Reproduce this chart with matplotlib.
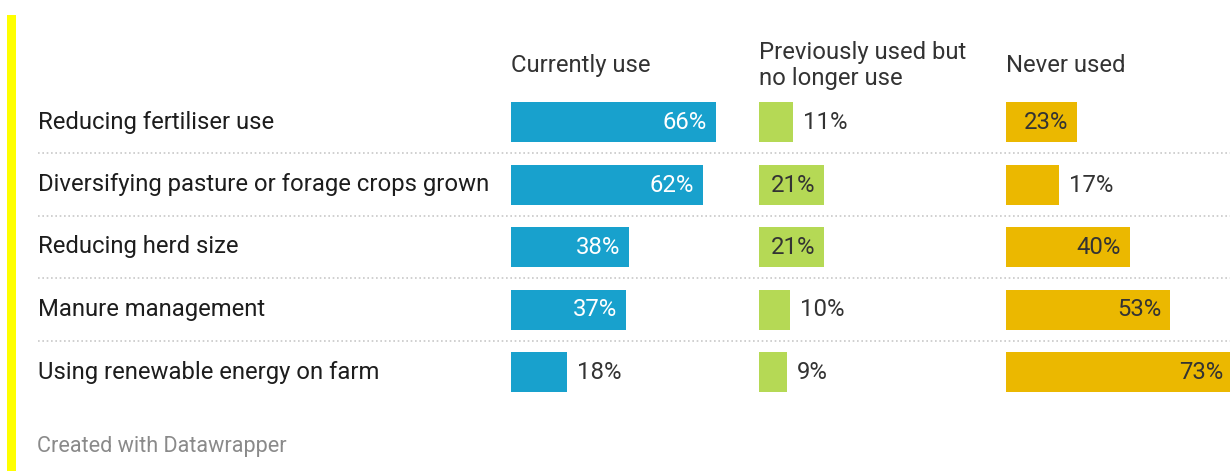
import matplotlib
matplotlib.use('Agg')
import matplotlib.pyplot as plt
from matplotlib.patches import Rectangle

plt.rcParams['font.family'] = ['Roboto', 'DejaVu Sans']

measures = [
    'Reducing fertiliser use',
    'Diversifying pasture or forage crops grown',
    'Reducing herd size',
    'Manure management',
    'Using renewable energy on farm',
]
columns = ['Currently use', 'Previously used but\nno longer use', 'Never used']
currently_use = [66, 62, 38, 37, 18]
previously_used = [11, 21, 21, 10, 9]
never_used = [23, 17, 40, 53, 73]

series = [currently_use, previously_used, never_used]
colors = ['#18a1cd', '#b5d955', '#ebb800']
inside_text = ['white', '#333333', '#333333']

W, H = 1230, 471
FS = 17.2
fig = plt.figure(figsize=(W / 100, H / 100), dpi=100)
fig.patch.set_facecolor('white')


def fx(px):
    return px / W


def fy(py):
    return 1 - py / H


row_h = 62.5
first_row = 122
top = first_row - row_h / 2
bottom = first_row + row_h * (len(measures) - 0.5)
ylim = (len(measures) - 0.5, -0.5)
base_off = 6.5  # baseline sits this many px below the row centre

# background layer in pixel x units: row labels and dotted separators
bg = fig.add_axes([0, fy(bottom), 1, (bottom - top) / H])
bg.set_xlim(0, W)
bg.set_ylim(*ylim)
bg.axis('off')
for i, name in enumerate(measures):
    bg.text(38, i + base_off / row_h, name, ha='left', va='baseline',
            fontsize=FS, color='#1d1d1d')
for i in range(len(measures) - 1):
    bg.plot([38, W], [i + 0.5, i + 0.5], color='#c8c8c8', lw=1.2,
            linestyle=(0, (1, 1.6)), solid_capstyle='butt')

col_x = [511, 759, 1006]
px_per_pct = 3.1
for k, (vals, x0) in enumerate(zip(series, col_x)):
    ax = fig.add_axes([fx(x0), fy(bottom), 100 * px_per_pct / W, (bottom - top) / H])
    ax.set_xlim(0, 100)
    ax.set_ylim(*ylim)
    ax.axis('off')
    ax.barh(range(len(vals)), vals, height=40 / row_h, color=colors[k])
    for i, v in enumerate(vals):
        if v >= 20:
            ax.annotate(f'{v}%', (v, i), xytext=(-9, -base_off - 0.5),
                        textcoords='offset pixels', ha='right', va='baseline',
                        fontsize=FS, color=inside_text[k])
        else:
            ax.annotate(f'{v}%', (v, i), xytext=(10, -base_off - 0.5),
                        textcoords='offset pixels', ha='left', va='baseline',
                        fontsize=FS, color='#333333')
    lines = columns[k].split('\n')
    if len(lines) == 1:
        fig.text(fx(x0), fy(72), lines[0], ha='left', va='baseline',
                 fontsize=FS, color='#333333')
    else:
        for j, line in enumerate(lines):
            fig.text(fx(x0), fy(58.5 + 26.5 * j), line, ha='left', va='baseline',
                     fontsize=FS, color='#333333')

fig.text(fx(37), fy(452), 'Created with Datawrapper', ha='left', va='baseline',
         fontsize=15.6, color='#8a8a8a')

# yellow accent strip on the left edge
fig.patches.append(Rectangle((fx(7), 0), fx(9), fy(15), transform=fig.transFigure,
                             facecolor='#ffff00', edgecolor='none'))

fig.savefig('out.png', dpi=100)
